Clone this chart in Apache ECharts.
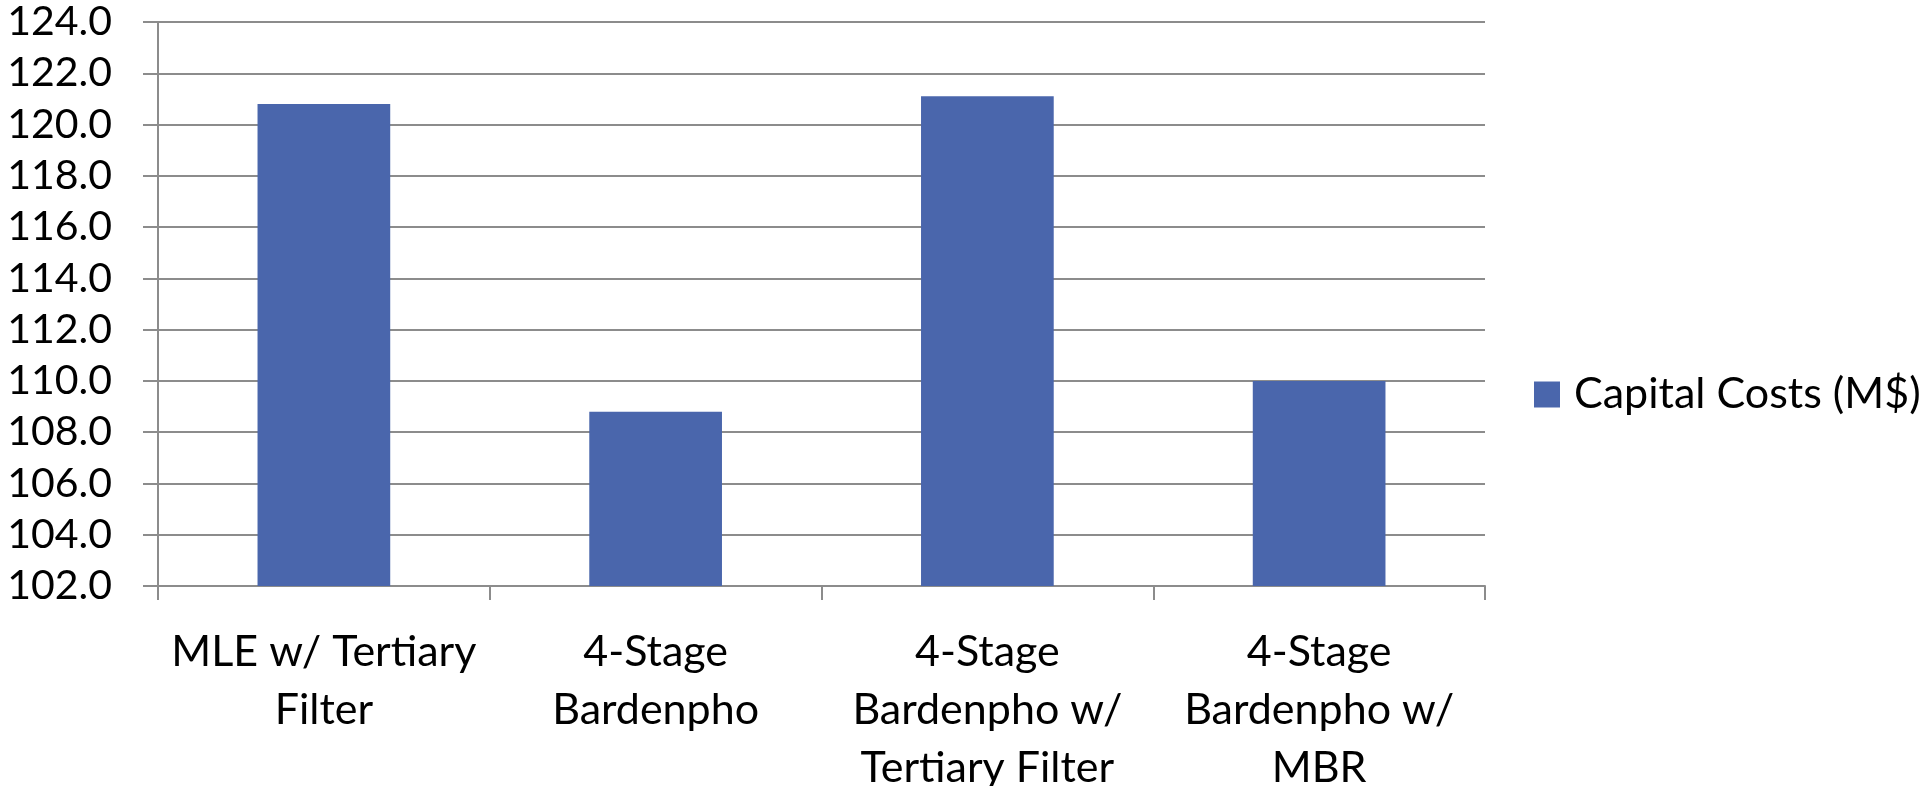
<!DOCTYPE html>
<html>
<head>
<meta charset="utf-8">
<script src="https://cdn.jsdelivr.net/npm/echarts@6/dist/echarts.min.js"></script>
<style>
  html, body { margin: 0; padding: 0; background: #ffffff; }
  #chart { width: 1928px; height: 786px; }
</style>
</head>
<body>
<div id="chart"></div>
<script>
// Capital cost per treatment alternative (millions of dollars)
const categories = [
  'MLE w/ Tertiary\nFilter',
  '4-Stage\nBardenpho',
  '4-Stage\nBardenpho w/\nTertiary Filter',
  '4-Stage\nBardenpho w/\nMBR'
];
const seriesName = 'Capital Costs (M$)';
const capitalCosts = [120.8, 108.8, 121.1, 110.0];
const yMin = 102;
const yMax = 124;
const yStep = 2;

const FONT = 'Lato, "Open Sans", "DejaVu Sans", sans-serif';
const TEXT_SIZE = 43;   // category labels and legend
const TICK_SIZE = 41;   // value-axis numbers
const GRID_GREY = '#8c8c8c';

const chart = echarts.init(document.getElementById('chart'), null, { renderer: 'canvas' });

chart.setOption({
  animation: false,
  backgroundColor: '#ffffff',
  textStyle: { fontFamily: FONT },
  grid: {
    left: 158, right: 443, top: 22, bottom: 200,
    containLabel: false,
    outerBoundsMode: 'none'
  },
  legend: {
    show: true,
    left: 1534,
    top: 373,
    padding: 0,
    itemWidth: 26,
    itemHeight: 26,
    icon: 'rect',
    data: [seriesName],
    textStyle: {
      fontFamily: FONT,
      fontSize: TEXT_SIZE,
      color: '#000000',
      lineHeight: 42,
      padding: [0, 0, 0, 9]
    }
  },
  xAxis: {
    type: 'category',
    data: categories,
    boundaryGap: true,
    axisLine: { show: true, lineStyle: { color: GRID_GREY, width: 2 } },
    axisTick: { show: true, length: 14, lineStyle: { color: GRID_GREY, width: 2 } },
    axisLabel: {
      interval: 0,
      margin: 37,
      fontFamily: FONT,
      fontSize: TEXT_SIZE,
      lineHeight: 58,
      color: '#000000',
      align: 'center',
      verticalAlign: 'top'
    },
    splitLine: { show: false }
  },
  yAxis: {
    type: 'value',
    min: yMin,
    max: yMax,
    interval: yStep,
    axisLine: { show: true, lineStyle: { color: GRID_GREY, width: 2 } },
    axisTick: { show: true, length: 15, lineStyle: { color: GRID_GREY, width: 2 } },
    axisLabel: {
      margin: 46,
      fontFamily: FONT,
      fontSize: TICK_SIZE,
      color: '#000000',
      formatter: function (v) { return v.toFixed(1); }
    },
    splitLine: { show: true, lineStyle: { color: GRID_GREY, width: 2 } }
  },
  series: [{
    name: seriesName,
    type: 'bar',
    data: capitalCosts,
    barCategoryGap: '60%',
    itemStyle: { color: '#4A66AC' }
  }]
});
</script>
</body>
</html>
